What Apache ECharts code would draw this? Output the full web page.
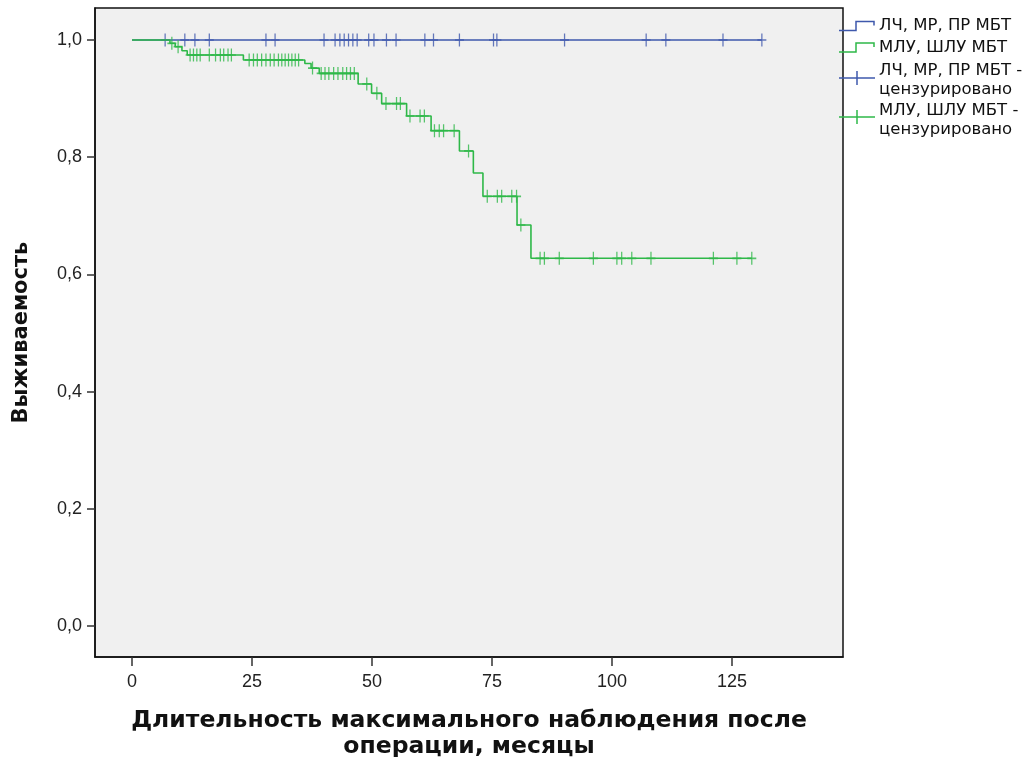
<!DOCTYPE html>
<html><head><meta charset="utf-8">
<script src="https://cdn.jsdelivr.net/npm/echarts@6/dist/echarts.min.js"></script>
<style>html,body{margin:0;padding:0;background:#fff}#c{width:1035px;height:757px}</style>
</head><body><div id="c"></div>
<script>
// ---- data ----
const xTicks = [0, 25, 50, 75, 100, 125];
const yTicks = [0, 0.2, 0.4, 0.6, 0.8, 1.0];
const blueName = 'ЛЧ, МР, ПР МБТ';
const greenName = 'МЛУ, ШЛУ МБТ';
const censorSuffix = ' -\nцензурировано';
const xTitle = 'Длительность максимального наблюдения после\nоперации, месяцы';
const yTitle = 'Выживаемость';

const blueStepTimes = [0, 131.2];
const blueStepSurv  = [1.0, 1.0];
const blueCensorTimes = [6.9, 11.0, 13.1, 16.1, 27.9, 29.8, 40.0, 42.3, 43.3, 44.2, 45.1, 46.0, 46.9,
  49.3, 50.4, 53.0, 55.0, 61.0, 62.8, 68.2, 75.3, 76.0, 90.1, 107.1, 111.2, 123.1, 131.2];

const greenStepTimes = [0, 7.9, 9.0, 10.4, 11.5, 23.2, 36.0, 37.3, 39.0, 47.1, 49.9, 52.0, 57.2, 62.3, 68.2, 71.1, 73.1, 80.2, 83.1, 129.1];
const greenStepSurv  = [1.0, 0.9944, 0.9886, 0.9817, 0.9744, 0.9659, 0.960, 0.952, 0.943, 0.925, 0.909, 0.8915, 0.8703, 0.8452, 0.8106, 0.773, 0.7333, 0.6843, 0.6275, 0.6275];
const greenCensorTimes = [8.3, 9.6, 12.1, 12.8, 13.5, 14.2, 16.1, 17.4, 18.4, 19.1, 20.0, 20.7,
  24.4, 25.3, 26.1, 27.0, 27.9, 28.8, 29.6, 30.5, 31.2, 31.9, 32.6, 33.3, 34.0, 34.7,
  37.6, 39.4, 40.2, 41.0, 42.0, 42.9, 43.9, 44.7, 45.5, 46.3, 48.9, 51.0, 52.9, 55.1, 55.9,
  57.9, 60.0, 60.9, 63.0, 64.0, 64.9, 67.1, 70.1, 74.0, 76.1, 77.0, 79.1, 80.1, 81.0,
  85.0, 85.9, 89.0, 96.1, 101.0, 102.0, 104.1, 108.1, 121.1, 126.0, 129.1];

// ---- styles ----
const BLUE = '#3e58ac';
const GREEN = '#2eb848';
const PLUS = 'path://M43,0L57,0L57,52L100,52L100,68L57,68L57,120L43,120L43,68L0,68L0,52L43,52Z';

function stepPairs(ts, ss) { return ts.map((t, i) => [t, ss[i]]); }
function survAt(ts, ss, t) {
  let v = ss[0];
  for (let i = 0; i < ts.length; i++) { if (ts[i] <= t + 1e-9) v = ss[i]; }
  return v;
}
function censorPairs(ts, ss, cs) { return cs.map(t => [t, survAt(ts, ss, t)]); }

const chart = echarts.init(document.getElementById('c'), null, { renderer: 'canvas' });
const LEFT = 95, RIGHT_EDGE = 843, TOP = 8, BOTTOM_EDGE = 657;

const legendText = { fontFamily: 'DejaVu Sans, sans-serif', fontSize: 16.5, fill: '#111' };
const lx = 839, tx = 879;
function stepIcon(color, yLow, yHigh) {
  return { type: 'polyline', shape: { points: [[lx, yLow], [lx + 17, yLow], [lx + 17, yHigh], [lx + 35, yHigh], [lx + 35, yHigh + 4]] },
    style: { stroke: color, lineWidth: 1.5, fill: null } };
}
function censorIcon(color, y) {
  return [
    { type: 'line', shape: { x1: lx, y1: y, x2: lx + 36, y2: y }, style: { stroke: color, lineWidth: 1.5 } },
    { type: 'line', shape: { x1: lx + 18, y1: y - 7, x2: lx + 18, y2: y + 7 }, style: { stroke: color, lineWidth: 1.5 } }
  ];
}

chart.setOption({
  animation: false,
  backgroundColor: '#ffffff',
  grid: { left: LEFT, right: 1035 - RIGHT_EDGE, top: TOP, bottom: 757 - BOTTOM_EDGE, show: true,
    containLabel: false, outerBoundsMode: 'none',
    backgroundColor: '#f0f0f0', borderColor: '#111', borderWidth: 1.5 },
  xAxis: {
    type: 'value', min: -7.71, max: 148.1,
    name: xTitle, nameLocation: 'middle', nameGap: 51,
    nameTextStyle: { fontFamily: 'DejaVu Sans', fontWeight: 'bold', fontSize: 23.5, color: '#111', lineHeight: 26, verticalAlign: 'top' },
    axisLine: { show: true, onZero: false, lineStyle: { color: '#111', width: 1.5 } },
    axisTick: { show: true, customValues: xTicks, length: 9, lineStyle: { color: '#333', width: 1.5 } },
    axisLabel: { customValues: xTicks, margin: 16, fontFamily: 'Liberation Sans, Arial, sans-serif', fontSize: 18, color: '#222',
      formatter: v => String(v) },
    splitLine: { show: false }
  },
  yAxis: {
    type: 'value', min: -0.0529, max: 1.0546,
    name: yTitle, nameLocation: 'middle', nameGap: 73, nameRotate: 90,
    nameTextStyle: { fontFamily: 'DejaVu Sans', fontWeight: 'bold', fontSize: 21, color: '#111', verticalAlign: 'middle' },
    axisLine: { show: true, onZero: false, lineStyle: { color: '#111', width: 1.5 } },
    axisTick: { show: true, customValues: yTicks, length: 8, lineStyle: { color: '#333', width: 1.5 } },
    axisLabel: { customValues: yTicks, margin: 13, fontFamily: 'Liberation Sans, Arial, sans-serif', fontSize: 18, color: '#222',
      formatter: v => v.toFixed(1).replace('.', ',') },
    splitLine: { show: false }
  },
  series: [
    { name: blueName, type: 'line', step: 'end', data: stepPairs(blueStepTimes, blueStepSurv), showSymbol: false,
      lineStyle: { color: BLUE, width: 1.6 }, itemStyle: { color: BLUE }, z: 2 },
    { name: blueName + censorSuffix, type: 'scatter', data: censorPairs(blueStepTimes, blueStepSurv, blueCensorTimes),
      symbol: PLUS, symbolSize: [9, 13], itemStyle: { color: BLUE }, z: 3 },
    { name: greenName, type: 'line', step: 'end', data: stepPairs(greenStepTimes, greenStepSurv), showSymbol: false,
      lineStyle: { color: GREEN, width: 1.6 }, itemStyle: { color: GREEN }, z: 4 },
    { name: greenName + censorSuffix, type: 'scatter', data: censorPairs(greenStepTimes, greenStepSurv, greenCensorTimes),
      symbol: PLUS, symbolSize: [9, 13], itemStyle: { color: GREEN }, z: 5 }
  ],
  graphic: [
    stepIcon(BLUE, 30.5, 21.5),
    { type: 'text', left: tx, top: 17, style: Object.assign({ text: blueName }, legendText) },
    stepIcon(GREEN, 52, 43),
    { type: 'text', left: tx, top: 39, style: Object.assign({ text: greenName }, legendText) },
    ...censorIcon(BLUE, 78),
    { type: 'text', left: tx, top: 61, style: Object.assign({ text: blueName + ' -\nцензурировано', lineHeight: 19 }, legendText) },
    ...censorIcon(GREEN, 117),
    { type: 'text', left: tx, top: 101, style: Object.assign({ text: greenName + ' -\nцензурировано', lineHeight: 19 }, legendText) }
  ]
});
</script></body></html>
